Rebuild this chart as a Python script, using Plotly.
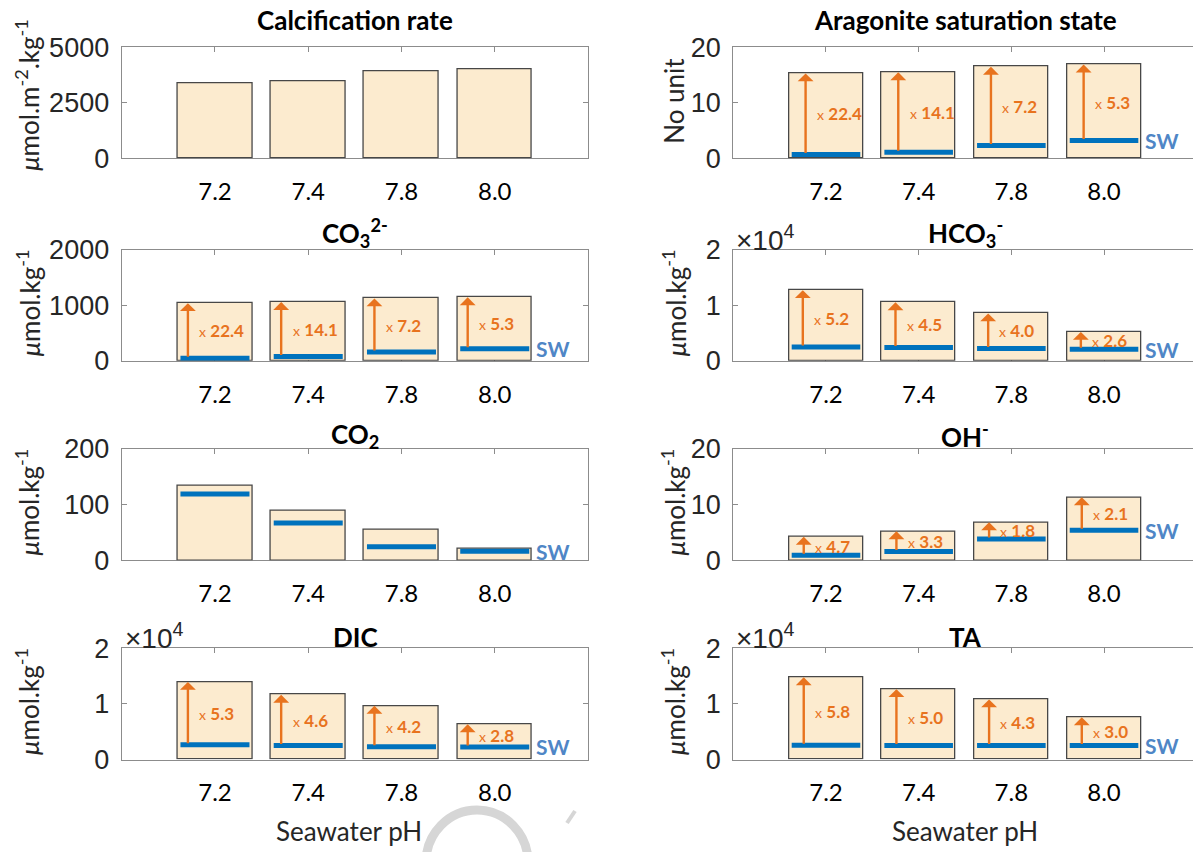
import plotly.graph_objects as go

# ---------------- data ----------------
ph_labels = ["7.2", "7.4", "7.8", "8.0"]
positions = [1, 2, 3, 4]

calcification = [3400, 3480, 3920, 4020]

aragonite_bar = [15.3, 15.5, 16.5, 16.9]
aragonite_sw = [0.68, 1.1, 2.3, 3.2]
aragonite_ratio = ["22.4", "14.1", "7.2", "5.3"]

co3_bar = [1040, 1060, 1125, 1145]
co3_sw = [46, 75, 156, 216]
co3_ratio = ["22.4", "14.1", "7.2", "5.3"]

hco3_bar = [12750, 10550, 8550, 5200]
hco3_sw = [2480, 2380, 2200, 2080]
hco3_ratio = ["5.2", "4.5", "4.0", "2.6"]

co2_bar = [133, 89, 55, 20]
co2_sw = [119, 67, 24.5, 16]

oh_bar = [4.2, 5.2, 6.8, 11.3]
oh_sw = [0.9, 1.58, 3.8, 5.4]
oh_ratio = ["4.7", "3.3", "1.8", "2.1"]

dic_bar = [13950, 11650, 9650, 6330]
dic_sw = [2640, 2530, 2300, 2260]
dic_ratio = ["5.3", "4.6", "4.2", "2.8"]

ta_bar = [14800, 12650, 10800, 7580]
ta_sw = [2550, 2530, 2510, 2530]
ta_ratio = ["5.8", "5.0", "4.3", "3.0"]

# ---------------- styling ----------------
W, H = 1193, 852
FILL = "#FCEBCF"
EDGE = "#474747"
AXC = "#8c8c8c"
BLUE = "#0072BD"
SWBLUE = "#4F86C6"
ORANGE = "#E8731E"
TXT = "#262626"
BODY = "Lato, 'Open Sans', sans-serif"
HELV = "'Liberation Sans', Arial, sans-serif"

KG = "<i>μ</i>mol.kg<sup>-1</sup>"
panels = [
    dict(row=0, col=0, bar=calcification, sw=None, ratio=None, ymax=5000,
         tv=[0, 2500, 5000], tt=["0", "2500", "5000"], title="Calcification rate",
         ylab="<i>μ</i>mol.m<sup>-2</sup>.kg<sup>-1</sup>", exp=False, dx=0, sw_label=False),
    dict(row=0, col=1, bar=aragonite_bar, sw=aragonite_sw, ratio=aragonite_ratio, ymax=20,
         tv=[0, 10, 20], tt=["0", "10", "20"], title="Aragonite saturation state",
         ylab="No unit", exp=False, dx=-0.22, sw_label=True),
    dict(row=1, col=0, bar=co3_bar, sw=co3_sw, ratio=co3_ratio, ymax=2000,
         tv=[0, 1000, 2000], tt=["0", "1000", "2000"], title="CO<sub>3</sub><sup>2-</sup>",
         ylab=KG, exp=False, dx=-0.29, sw_label=True),
    dict(row=1, col=1, bar=hco3_bar, sw=hco3_sw, ratio=hco3_ratio, ymax=20000,
         tv=[0, 10000, 20000], tt=["0", "1", "2"], title="HCO<sub>3</sub><sup>-</sup>",
         ylab=KG, exp=True, dx=-0.25, sw_label=True),
    dict(row=2, col=0, bar=co2_bar, sw=co2_sw, ratio=None, ymax=200,
         tv=[0, 100, 200], tt=["0", "100", "200"], title="CO<sub>2</sub>",
         ylab=KG, exp=False, dx=0, sw_label=True),
    dict(row=2, col=1, bar=oh_bar, sw=oh_sw, ratio=oh_ratio, ymax=20,
         tv=[0, 10, 20], tt=["0", "10", "20"], title="OH<sup>-</sup>",
         ylab=KG, exp=False, dx=-0.24, sw_label=True),
    dict(row=3, col=0, bar=dic_bar, sw=dic_sw, ratio=dic_ratio, ymax=20000,
         tv=[0, 10000, 20000], tt=["0", "1", "2"], title="DIC",
         ylab=KG, exp=True, dx=-0.29, sw_label=True),
    dict(row=3, col=1, bar=ta_bar, sw=ta_sw, ratio=ta_ratio, ymax=20000,
         tv=[0, 10000, 20000], tt=["0", "1", "2"], title="TA",
         ylab=KG, exp=True, dx=-0.24, sw_label=True),
]

rows_px = [(47.3, 158.3), (250.0, 360.7), (448.7, 560.3), (648.3, 759.5)]
title_px = [20.5, 233, 436, 637]
cols_px = [(121.7, 588.0, 5.0), (733.3, 1193.0, 4.96)]
col_center_px = [355, 965]
ylab_x_px = [28, 674]


def fx(p):
    return p / W


def fy(p):
    return 1 - p / H


fig = go.Figure()
annotations = []
layout = {}

for k, pn in enumerate(panels, start=1):
    xa = "x" if k == 1 else f"x{k}"
    ya = "y" if k == 1 else f"y{k}"
    xkey = "xaxis" if k == 1 else f"xaxis{k}"
    ykey = "yaxis" if k == 1 else f"yaxis{k}"
    top, bot = rows_px[pn["row"]]
    left, right, xmax = cols_px[pn["col"]]

    fig.add_trace(go.Bar(x=positions, y=pn["bar"], width=0.8, xaxis=xa, yaxis=ya,
                         marker=dict(color=FILL, line=dict(color=EDGE, width=1.3)),
                         showlegend=False, hoverinfo="skip"))

    if pn["sw"] is not None:
        lx, ly = [], []
        for p, s in zip(positions, pn["sw"]):
            lx += [p - 0.37, p + 0.37, None]
            ly += [s, s, None]
        fig.add_trace(go.Scatter(x=lx, y=ly, mode="lines", xaxis=xa, yaxis=ya,
                                 line=dict(color=BLUE, width=5), showlegend=False,
                                 hoverinfo="skip"))

    if pn["ratio"] is not None:
        for p, b, s, r in zip(positions, pn["bar"], pn["sw"], pn["ratio"]):
            annotations.append(dict(x=p + pn["dx"], y=b, ax=p + pn["dx"], ay=s,
                                    xref=xa, yref=ya, axref=xa, ayref=ya, text="",
                                    showarrow=True, arrowhead=1, arrowsize=1.1,
                                    arrowwidth=2.4, arrowcolor=ORANGE, standoff=0))
            annotations.append(dict(x=p + pn["dx"] + 0.1, y=(b + s) / 2, xref=xa, yref=ya,
                                    xanchor="left", yanchor="middle", showarrow=False,
                                    text=f"<span style='font-size:14px'>x</span> <b>{r}</b>",
                                    font=dict(family=BODY, size=17, color=ORANGE)))

    if pn["sw_label"]:
        annotations.append(dict(x=4.63, y=pn["sw"][-1], xref=xa, yref=ya,
                                xanchor="center", yanchor="middle", showarrow=False,
                                text="<b>SW</b>", font=dict(family=BODY, size=21, color=SWBLUE)))

    # title
    annotations.append(dict(x=fx(col_center_px[pn["col"]]), y=fy(title_px[pn["row"]]),
                            xref="paper", yref="paper", xanchor="center", yanchor="middle",
                            showarrow=False, text=f"<b>{pn['title']}</b>",
                            font=dict(family=BODY, size=26, color="black")))
    # y label
    annotations.append(dict(x=fx(ylab_x_px[pn["col"]]), y=fy((top + bot) / 2 - (8 if k == 1 else 2)),
                            xref="paper", yref="paper", xanchor="center", yanchor="middle",
                            showarrow=False, textangle=-90, text=pn["ylab"],
                            font=dict(family=BODY, size=26, color=TXT)))
    if pn["exp"]:
        annotations.append(dict(x=fx(left + 1), y=fy(top - 12), xref="paper", yref="paper",
                                xanchor="left", yanchor="middle", showarrow=False,
                                text="×10<sup>4</sup>",
                                font=dict(family=HELV, size=28, color=TXT)))

    layout[xkey] = dict(domain=[fx(left), min(1.0, fx(right))], range=[0, xmax],
                        anchor=ya, tickvals=positions, ticktext=ph_labels,
                        ticks="inside", ticklen=5, tickcolor=AXC, tickwidth=1,
                        showline=True, linecolor=AXC, linewidth=1.2, mirror="ticks",
                        showgrid=False, zeroline=False, layer="below traces",
                        automargin=False,
                        tickfont=dict(family=BODY, size=24, color="black"),
                        ticklabelstandoff=12, fixedrange=True)
    layout[ykey] = dict(domain=[fy(bot), fy(top)], range=[0, pn["ymax"]], anchor=xa,
                        tickvals=pn["tv"], ticktext=pn["tt"], ticks="inside", ticklen=5,
                        tickcolor=AXC, tickwidth=1, showline=True, linecolor=AXC,
                        linewidth=1.2, mirror=("ticks" if pn["col"] == 0 else False),
                        showgrid=False, zeroline=False, automargin=False,
                        tickfont=dict(family=HELV, size=27, color=TXT),
                        ticklabelstandoff=6, fixedrange=True)

# x-axis titles
for c in range(2):
    annotations.append(dict(x=fx(col_center_px[c] - 6 if c == 0 else col_center_px[c]),
                            y=fy(831), xref="paper", yref="paper",
                            xanchor="center", yanchor="middle", showarrow=False,
                            text="Seawater pH", font=dict(family=BODY, size=26, color=TXT)))

# faint watermark fragment
shapes = [
    dict(type="circle", xref="paper", yref="paper",
         x0=fx(426), x1=fx(528), y0=fy(915), y1=fy(810),
         line=dict(color="#d6d6d6", width=9), layer="below"),
    dict(type="line", xref="paper", yref="paper",
         x0=fx(567), x1=fx(575), y0=fy(823), y1=fy(811),
         line=dict(color="#d6d6d6", width=4), layer="below"),
]

fig.update_layout(width=W, height=H, margin=dict(l=0, r=0, t=0, b=0, autoexpand=False),
                  template="none",
                  paper_bgcolor="white", plot_bgcolor="white",
                  annotations=annotations, shapes=shapes, bargap=0, **layout)

fig.write_html("out.html")
